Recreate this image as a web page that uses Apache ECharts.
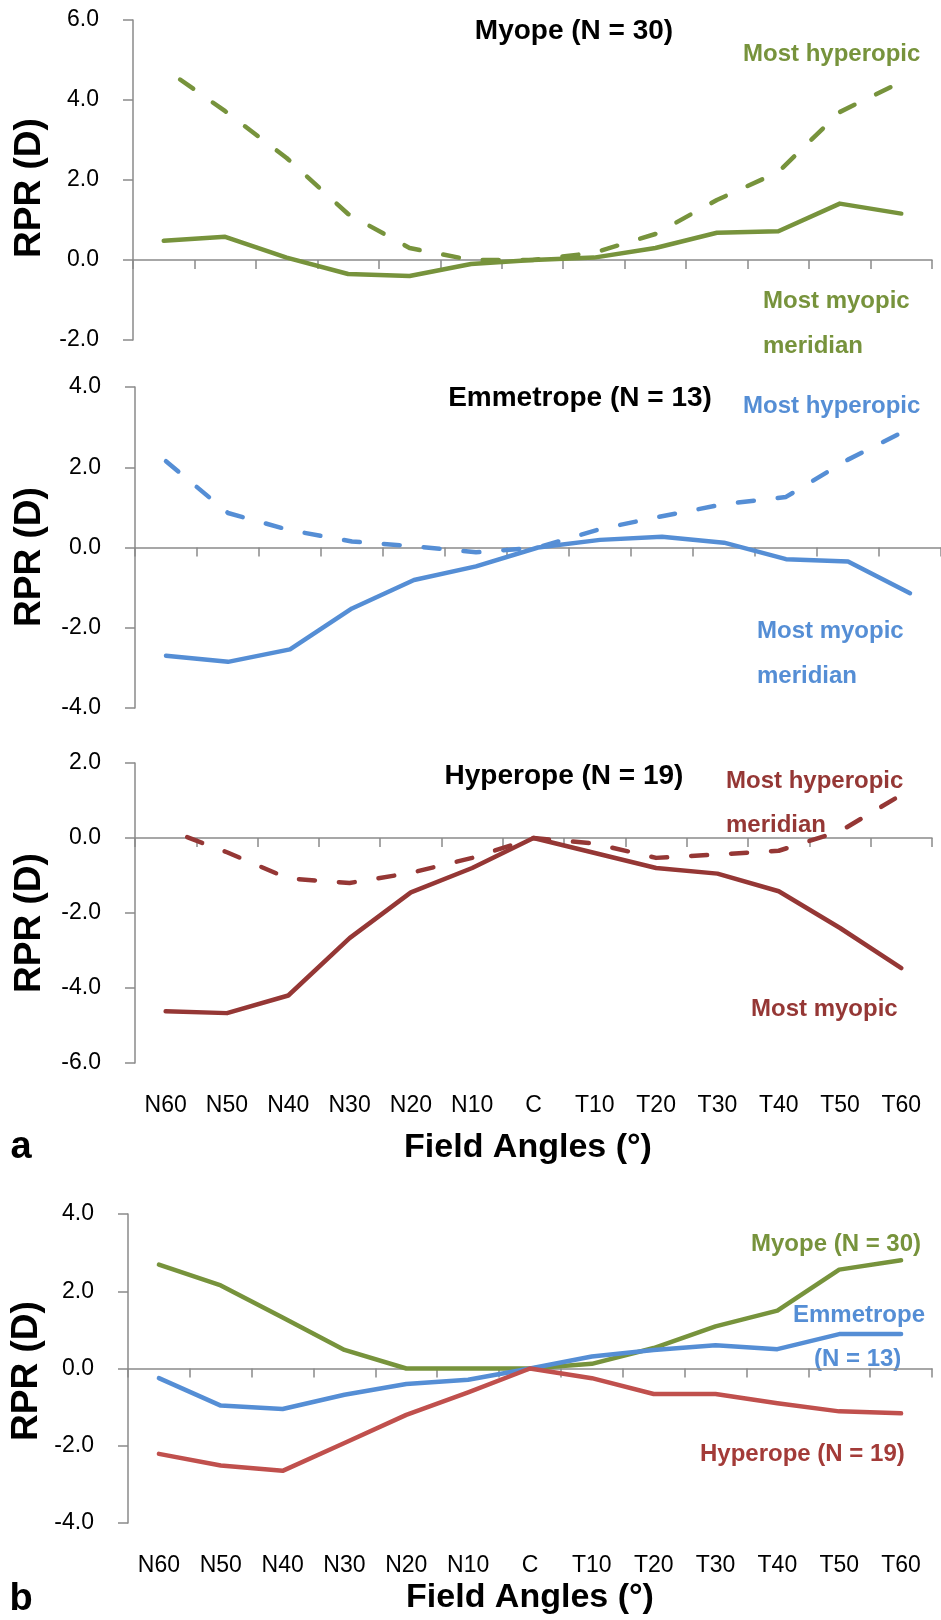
<!DOCTYPE html>
<html>
<head>
<meta charset="utf-8">
<title>RPR by field angle</title>
<script src="https://cdn.jsdelivr.net/npm/echarts@6/dist/echarts.min.js"></script>
<style>
  html, body { margin: 0; padding: 0; background: #fff; }
  #chart { width: 941px; height: 1620px; }
</style>
</head>
<body>
<div id="chart"></div>
<script>
// Field angles along the horizontal meridian
const categories = ['N60', 'N50', 'N40', 'N30', 'N20', 'N10', 'C', 'T10', 'T20', 'T30', 'T40', 'T50', 'T60'];

// Panel a: relative peripheral refraction (D) per refractive group and meridian
const myopeMostHyperopic = [4.8, 3.72, 2.55, 1.15, 0.3, 0.0, 0, 0.18, 0.65, 1.5, 2.2, 3.7, 4.45];
const myopeMostMyopic = [0.48, 0.58, 0.06, -0.35, -0.4, -0.1, 0, 0.06, 0.3, 0.68, 0.72, 1.41, 1.16];
const emmetropeMostHyperopic = [2.15, 0.86, 0.43, 0.15, 0.03, -0.12, 0, 0.46, 0.78, 1.08, 1.26, 2.19, 2.97];
const emmetropeMostMyopic = [-2.7, -2.85, -2.54, -1.52, -0.81, -0.47, 0, 0.19, 0.27, 0.12, -0.29, -0.35, -1.14];
const hyperopeMostHyperopic = [0.24, -0.38, -1.08, -1.2, -0.93, -0.53, 0, -0.15, -0.53, -0.44, -0.34, 0.18, 1.15];
const hyperopeMostMyopic = [-4.62, -4.67, -4.2, -2.67, -1.45, -0.8, 0, -0.4, -0.8, -0.95, -1.42, -2.4, -3.47];

// Panel b: group means
const myopeMean = [2.69, 2.15, 1.32, 0.48, 0, 0, 0, 0.12, 0.53, 1.09, 1.5, 2.56, 2.8];
const emmetropeMean = [-0.25, -0.96, -1.05, -0.68, -0.4, -0.29, 0, 0.31, 0.48, 0.6, 0.5, 0.89, 0.89];
const hyperopeMean = [-2.21, -2.51, -2.65, -1.93, -1.2, -0.62, 0, -0.25, -0.66, -0.66, -0.9, -1.11, -1.16];

// Y-axis ranges per panel [min, max]
const yRanges = [[-2, 6], [-4, 4], [-6, 2], [-4, 4]];

const GREEN = '#77933C';
const BLUE = '#558ED5';
const DARKRED = '#953735';
const RED = '#C0504D';
const AXIS = '#8A8A8A';
const FONT = '"Liberation Sans", Arial, Helvetica, sans-serif';

const grids = [
  { left: 133, top: 20, width: 799, height: 320 },
  { left: 135, top: 387, width: 806, height: 321 },
  { left: 135, top: 763, width: 797, height: 300 },
  { left: 128, top: 1214, width: 804, height: 309 }
];

const xAxes = [];
const yAxes = [];
grids.forEach((g, i) => {
  // axis line through zero with boundary ticks
  xAxes.push({
    type: 'category', gridIndex: i, data: categories, position: 'bottom',
    boundaryGap: true,
    axisLine: { show: true, onZero: true, lineStyle: { color: AXIS, width: 1.5 } },
    axisTick: { show: true, length: 9, interval: 0, lineStyle: { color: AXIS, width: 1.5 } },
    axisLabel: { show: false },
    splitLine: { show: false }
  });
  // field-angle labels along the bottom of the lower panels
  xAxes.push({
    type: 'category', gridIndex: i, data: categories, position: 'bottom',
    boundaryGap: true,
    axisLine: { show: false, onZero: false },
    axisTick: { show: false },
    axisLabel: { show: i >= 2, interval: 0, margin: 31, color: '#000', fontSize: 23, fontFamily: FONT },
    splitLine: { show: false }
  });
  yAxes.push({
    type: 'value', gridIndex: i, min: yRanges[i][0], max: yRanges[i][1], interval: 2,
    axisLine: { show: true, onZero: false, lineStyle: { color: AXIS, width: 1.5 } },
    axisTick: { show: true, length: 10, lineStyle: { color: AXIS, width: 1.5 } },
    axisLabel: { margin: 34, color: '#000', fontSize: 23, fontFamily: FONT, formatter: v => v.toFixed(1) },
    splitLine: { show: false }
  });
});

function line(data, grid, color, dashed, dashOffset) {
  return {
    type: 'line', data, xAxisIndex: grid * 2, yAxisIndex: grid,
    symbol: 'none', silent: true, animation: false,
    lineStyle: {
      color, width: 4.5, cap: 'round', join: 'round',
      type: dashed ? [16, 24] : 'solid',
      dashOffset: dashOffset || 0
    }
  };
}

function txt(text, x, y, color, size, opts) {
  opts = opts || {};
  return {
    type: 'text', x, y, rotation: opts.rotation || 0, silent: true,
    style: {
      text, fill: color, align: opts.align || 'left', verticalAlign: 'middle',
      font: (opts.weight || 'bold') + ' ' + size + 'px ' + FONT
    }
  };
}

const graphics = [
  // panel titles
  txt('Myope (N = 30)', 574, 31, '#000', 28, { align: 'center' }),
  txt('Emmetrope (N = 13)', 580, 398, '#000', 28, { align: 'center' }),
  txt('Hyperope (N = 19)', 564, 776, '#000', 28, { align: 'center' }),
  // meridian annotations, panel a
  txt('Most hyperopic', 743, 54, GREEN, 24),
  txt('Most myopic', 763, 301, GREEN, 24),
  txt('meridian', 763, 346, GREEN, 24),
  txt('Most hyperopic', 743, 406, BLUE, 24),
  txt('Most myopic', 757, 631, BLUE, 24),
  txt('meridian', 757, 676, BLUE, 24),
  txt('Most hyperopic', 726, 781, DARKRED, 24),
  txt('meridian', 726, 825, DARKRED, 24),
  txt('Most myopic', 751, 1009, DARKRED, 24),
  // group labels, panel b
  txt('Myope (N = 30)', 751, 1244, GREEN, 24),
  txt('Emmetrope', 793, 1315, BLUE, 24),
  txt('(N = 13)', 814, 1359, BLUE, 24),
  txt('Hyperope (N = 19)', 700, 1454, '#A33B38', 24),
  // axis titles
  txt('RPR (D)', 30, 188, '#000', 37, { align: 'center', rotation: Math.PI / 2 }),
  txt('RPR (D)', 30, 557, '#000', 37, { align: 'center', rotation: Math.PI / 2 }),
  txt('RPR (D)', 30, 923, '#000', 37, { align: 'center', rotation: Math.PI / 2 }),
  txt('RPR (D)', 27, 1371, '#000', 37, { align: 'center', rotation: Math.PI / 2 }),
  txt('Field Angles (°)', 528, 1148, '#000', 34, { align: 'center' }),
  txt('Field Angles (°)', 530, 1598, '#000', 34, { align: 'center' }),
  // panel letters
  txt('a', 21, 1148, '#000', 38, { align: 'center' }),
  txt('b', 21, 1600, '#000', 38, { align: 'center' })
];

const chart = echarts.init(document.getElementById('chart'), null, { renderer: 'canvas' });
chart.setOption({
  backgroundColor: '#fff',
  animation: false,
  grid: grids,
  xAxis: xAxes,
  yAxis: yAxes,
  series: [
    line(myopeMostHyperopic, 0, GREEN, true, 20),
    line(myopeMostMyopic, 0, GREEN, false),
    line(emmetropeMostHyperopic, 1, BLUE, true, 0),
    line(emmetropeMostMyopic, 1, BLUE, false),
    line(hyperopeMostHyperopic, 2, DARKRED, true, 17),
    line(hyperopeMostMyopic, 2, DARKRED, false),
    line(myopeMean, 3, GREEN, false),
    line(emmetropeMean, 3, BLUE, false),
    line(hyperopeMean, 3, RED, false)
  ],
  graphic: graphics
});
</script>
</body>
</html>
